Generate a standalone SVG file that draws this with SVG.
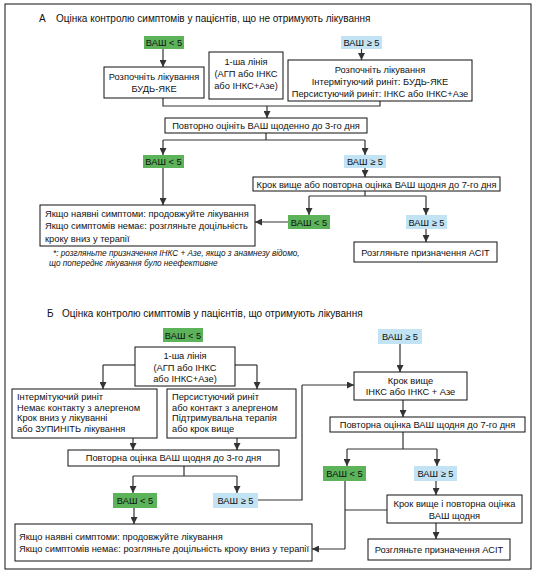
<svg xmlns="http://www.w3.org/2000/svg" width="540" height="574" viewBox="0 0 540 574">
<defs>
<marker id="ah" markerWidth="7" markerHeight="7" refX="7" refY="3.5" orient="auto" markerUnits="userSpaceOnUse"><path d="M0,0 L7,3.5 L0,7 z" fill="#333"/></marker>
<style>
.box{fill:#fff;stroke:#111;stroke-width:1}
.g{fill:#5cb35a}
.b{fill:#c2e3f4}
.t{font-family:"Liberation Sans",Arial,sans-serif;font-size:9.3px;fill:#111}
.c{text-anchor:middle}
.h{font-size:10px}
.fn{font-style:italic;font-size:8.2px}
.ln{fill:none;stroke:#333;stroke-width:1.2}
.ar{fill:none;stroke:#333;stroke-width:1.2;marker-end:url(#ah)}
</style>
</defs>
<rect x="0" y="0" width="540" height="574" fill="#fff"/>
<rect x="5" y="4" width="526" height="565" fill="none" stroke="#111" stroke-width="1"/>

<g id="titleA"><text class="t h" x="39" y="22">А</text><text class="t h" x="56" y="22">Оцінка контролю симптомів у пацієнтів, що не отримують лікування</text></g>

<g id="connectorsA">
<path class="ar" d="M163,49 V67"/>
<path class="ar" d="M361.5,49 V60"/>
<path class="ln" d="M163,98 V106 H380 V101"/>
<path class="ar" d="M267,106 V118"/>
<path class="ln" d="M266,133 V140 M163,140 H365"/>
<path class="ar" d="M163,140 V155"/>
<path class="ar" d="M365,140 V155"/>
<path class="ar" d="M163,168 V205"/>
<path class="ar" d="M365,168 V177"/>
<path class="ln" d="M365,191 V196 M309,196 H426"/>
<path class="ar" d="M309,196 V215"/>
<path class="ar" d="M426,196 V215"/>
<path class="ar" d="M288,222 H255"/>
<path class="ar" d="M426,229 V242"/>
</g>

<g id="A_vas_lt5"><rect class="g" x="144" y="36" width="40" height="13"/><text class="t c" x="164" y="45.5">ВАШ &lt; 5</text></g>
<g id="A_vas_ge5"><rect class="b" x="341" y="36" width="41" height="13"/><text class="t c" x="361.5" y="45.5">ВАШ ≥ 5</text></g>
<g id="A_start_any"><rect class="box" x="104" y="67" width="100" height="31"/><text class="t c" x="154" y="80">Розпочніть лікування</text><text class="t c" x="154" y="92">БУДЬ-ЯКЕ</text></g>
<g id="A_first_line"><rect class="box" x="209" y="52" width="74" height="47"/><text class="t c" x="246" y="65">1-ша лінія</text><text class="t c" x="246" y="77">(АГП або ІНКС</text><text class="t c" x="246" y="89">або ІНКС+Азе)</text></g>
<g id="A_start_right"><rect class="box" x="288" y="60" width="184" height="41"/><text class="t c" x="380" y="72.5">Розпочніть лікування</text><text class="t c" x="380" y="84.5">Інтермітуючий риніт: БУДЬ-ЯКЕ</text><text class="t c" x="380" y="96.5">Персистуючий риніт: ІНКС або ІНКС+Азе</text></g>
<g id="A_reassess3"><rect class="box" x="165" y="118" width="202" height="15"/><text class="t c" x="266" y="128.5">Повторно оцініть ВАШ щоденно до 3-го дня</text></g>
<g id="A_vas_lt5_2"><rect class="g" x="143" y="155" width="41" height="13"/><text class="t c" x="163.5" y="164.5">ВАШ &lt; 5</text></g>
<g id="A_vas_ge5_2"><rect class="b" x="344" y="155" width="42" height="13"/><text class="t c" x="365" y="164.5">ВАШ ≥ 5</text></g>
<g id="A_stepup"><rect class="box" x="253" y="177" width="247" height="14"/><text class="t c" x="376.5" y="187.5">Крок вище або повторна оцінка ВАШ щодня до 7-го дня</text></g>
<g id="A_vas_lt5_3"><rect class="g" x="288" y="215" width="42" height="14"/><text class="t c" x="309" y="225.5">ВАШ &lt; 5</text></g>
<g id="A_vas_ge5_3"><rect class="b" x="406" y="215" width="41" height="14"/><text class="t c" x="426.5" y="225.5">ВАШ ≥ 5</text></g>
<g id="A_continue"><rect class="box" x="40" y="205" width="215" height="41"/><text class="t" x="45" y="216.5">Якщо наявні симптоми: продовжуйте лікування</text><text class="t" x="45" y="229">Якщо симптомів немає: розгляньте доцільність</text><text class="t" x="45" y="241.5">кроку вниз у терапії</text></g>
<g id="A_asit"><rect class="box" x="354" y="242" width="143" height="20"/><text class="t c" x="425.5" y="255.5">Розгляньте призначення АСІТ</text></g>
<g id="A_footnote"><text class="t fn" x="53" y="256">*: розгляньте призначення ІНКС + Азе, якщо з анамнезу відомо,</text><text class="t fn" x="49" y="266">що попереднє лікування було неефективне</text></g>

<g id="titleB"><text class="t h" x="47" y="317">Б</text><text class="t h" x="62" y="317">Оцінка контролю симптомів у пацієнтів, що отримують лікування</text></g>

<g id="connectorsB">
<path class="ln" d="M135,365 H103"/>
<path class="ar" d="M103,365 V389"/>
<path class="ln" d="M235,365 H257"/>
<path class="ar" d="M257,365 V389"/>
<path class="ar" d="M133,438 V450"/>
<path class="ar" d="M237,438 V450"/>
<path class="ln" d="M184,466 V476 M133,476 H237"/>
<path class="ar" d="M133,476 V493"/>
<path class="ar" d="M237,476 V493"/>
<path class="ar" d="M134,508 V524"/>
<path class="ln" d="M258,500 H302 V385"/>
<path class="ar" d="M302,385 H354"/>
<path class="ar" d="M400,344 V372"/>
<path class="ar" d="M403,400 V417"/>
<path class="ln" d="M403,432 V449 M347,449 H437"/>
<path class="ar" d="M347,449 V466"/>
<path class="ar" d="M437,449 V466"/>
<path class="ln" d="M345,481 V549 M387,510 H345"/>
<path class="ar" d="M345,549 H312"/>
<path class="ar" d="M436,481 V495"/>
<path class="ar" d="M436,523 V539"/>
</g>

<g id="B_vas_lt5"><rect class="g" x="163" y="328" width="40" height="14"/><text class="t c" x="183" y="338.5">ВАШ &lt; 5</text></g>
<g id="B_first_line"><rect class="box" x="135" y="347" width="100" height="39"/><text class="t c" x="185" y="359">1-ша лінія</text><text class="t c" x="185" y="370.5">(АГП або ІНКС</text><text class="t c" x="185" y="382">або ІНКС+Азе)</text></g>
<g id="B_intermittent"><rect class="box" x="12" y="389" width="145" height="49"/><text class="t" x="17" y="400">Інтермітуючий риніт</text><text class="t" x="17" y="410.5">Немає контакту з алергеном</text><text class="t" x="17" y="421">Крок вниз у лікуванні</text><text class="t" x="17" y="431.5">або ЗУПИНІТЬ лікування</text></g>
<g id="B_persistent"><rect class="box" x="167" y="389" width="129" height="49"/><text class="t" x="172" y="400">Персистуючий риніт</text><text class="t" x="172" y="410.5">або контакт з алергеном</text><text class="t" x="172" y="421">Підтримувальна терапія</text><text class="t" x="172" y="431.5">або крок вище</text></g>
<g id="B_reassess3"><rect class="box" x="68" y="450" width="211" height="16"/><text class="t c" x="173.5" y="461">Повторна оцінка ВАШ щодня до 3-го дня</text></g>
<g id="B_vas_lt5_2"><rect class="g" x="113" y="493" width="44" height="15"/><text class="t c" x="135" y="504">ВАШ &lt; 5</text></g>
<g id="B_vas_ge5_2"><rect class="b" x="213" y="493" width="45" height="15"/><text class="t c" x="235.5" y="504">ВАШ ≥ 5</text></g>
<g id="B_continue"><rect class="box" x="15" y="524" width="297" height="37"/><text class="t" x="19" y="540">Якщо наявні симптоми: продовжуйте лікування</text><text class="t" x="19" y="552">Якщо симптомів немає: розгляньте доцільність кроку вниз у терапії</text></g>
<g id="B_vas_ge5"><rect class="b" x="378" y="329" width="44" height="15"/><text class="t c" x="400" y="340">ВАШ ≥ 5</text></g>
<g id="B_stepup"><rect class="box" x="354" y="372" width="113" height="28"/><text class="t c" x="410.5" y="383.5">Крок вище</text><text class="t c" x="410.5" y="395">ІНКС або ІНКС + Азе</text></g>
<g id="B_reassess7"><rect class="box" x="330" y="417" width="195" height="15"/><text class="t c" x="427.5" y="427.5">Повторна оцінка ВАШ щодня до 7-го дня</text></g>
<g id="B_vas_lt5_3"><rect class="g" x="323" y="466" width="43" height="15"/><text class="t c" x="344.5" y="477">ВАШ &lt; 5</text></g>
<g id="B_vas_ge5_3"><rect class="b" x="414" y="466" width="43" height="15"/><text class="t c" x="435.5" y="477">ВАШ ≥ 5</text></g>
<g id="B_stepup_reassess"><rect class="box" x="387" y="495" width="135" height="28"/><text class="t c" x="454.5" y="507">Крок вище і повторна оцінка</text><text class="t c" x="454.5" y="518.5">ВАШ щодня</text></g>
<g id="B_asit"><rect class="box" x="368" y="539" width="142" height="21"/><text class="t c" x="439" y="553">Розгляньте призначення АСІТ</text></g>
</svg>
